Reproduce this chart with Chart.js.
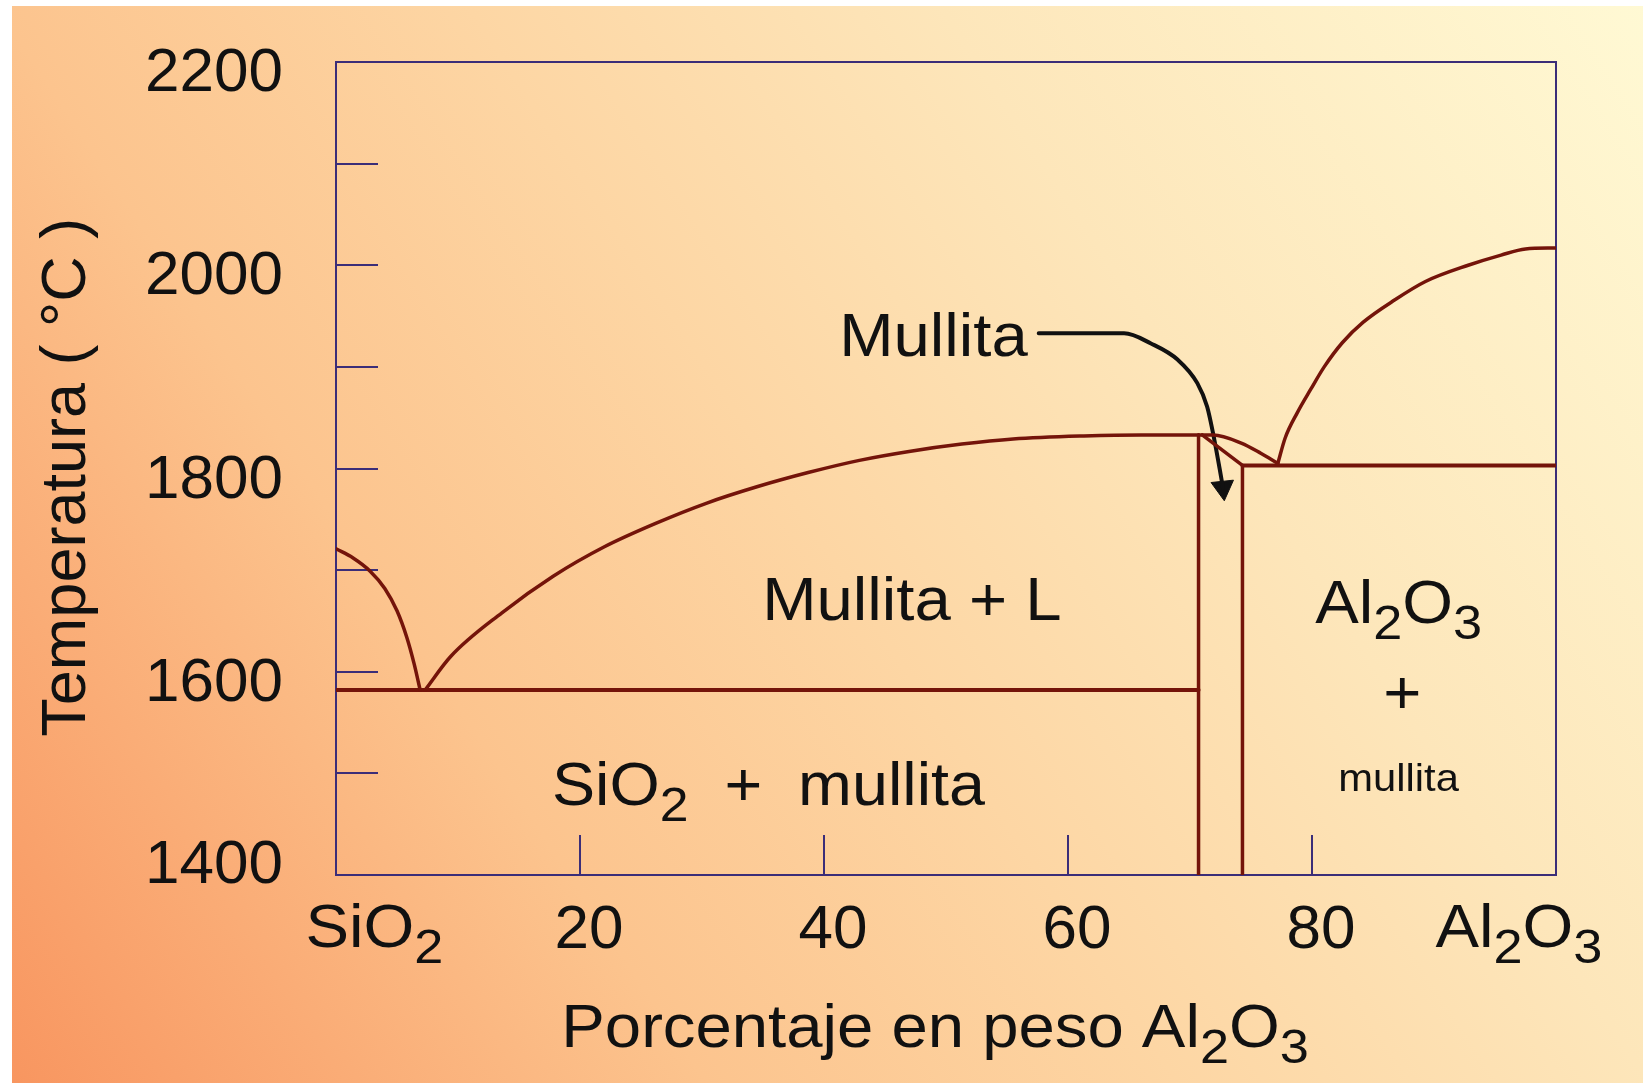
<!DOCTYPE html>
<html>
<head>
<meta charset="utf-8">
<script src="https://cdn.jsdelivr.net/npm/chart.js@4.4.1/dist/chart.umd.min.js"></script>
<style>
  html, body { margin: 0; padding: 0; background: #ffffff; }
  #wrap { width: 1643px; height: 1083px; }
</style>
</head>
<body>
<div id="wrap"><canvas id="c" width="1643" height="1083"></canvas></div>
<script>
// ---------------- DATA (wt% Al2O3, temperature °C) ----------------
const xTickValues = [0, 20, 40, 60, 80, 100];
const xTickLabels = ['SiO₂', '20', '40', '60', '80', 'Al₂O₃'];
const yTickValues = [1400, 1500, 1600, 1700, 1800, 1900, 2000, 2100, 2200];
const yTickLabels = ['1400', '', '1600', '', '1800', '', '2000', '', '2200'];

// SiO2 liquidus
const liqSiO2X = [0, 1.4, 2.8, 4.0, 5.0, 5.8, 6.4, 6.9];
const liqSiO2T = [1721, 1712, 1699, 1682, 1660, 1634, 1608, 1582];
// Mullite liquidus (Mullita + L)
const liqMulX = [7.3, 9.4, 13.6, 17.8, 22.0, 26.2, 30.4, 34.5, 38.7, 42.9, 47.1, 51.3, 55.5, 61.3, 66.0, 70.7];
const liqMulT = [1582, 1615, 1658, 1694, 1723, 1746, 1766, 1782, 1796, 1808, 1817, 1824, 1829, 1832, 1833, 1833];
// SiO2 - mullite eutectic line
const eut1X = [0, 70.7];
const eut1T = [1582, 1582];
// mullite left boundary
const mulLeftX = [70.7, 70.7];
const mulLeftT = [1400, 1833];
// liquidus from mullite to the Al2O3 eutectic
const domeX = [70.7, 71.9, 74.2, 75.8, 77.2];
const domeT = [1833, 1833, 1825, 1815, 1805];
// mullite right boundary
const mulRightX = [71.0, 74.3, 74.3];
const mulRightT = [1833, 1803, 1400];
// mullite - Al2O3 eutectic line
const eut2X = [74.3, 100];
const eut2T = [1803, 1803];
// Al2O3 liquidus
const liqAlX = [77.2, 77.8, 78.8, 79.9, 81.0, 82.5, 84.2, 86.8, 89.3, 92.8, 95.5, 97.5, 100];
const liqAlT = [1805, 1830, 1855, 1878, 1900, 1924, 1944, 1966, 1984, 2000, 2010, 2016, 2017];
// "Mullita" pointer arrow
const arrowX = [57.6, 64.6, 66.8, 69.0, 70.6, 71.4, 72.0, 72.5, 72.7];
const arrowT = [1933, 1933, 1923, 1907, 1884, 1861, 1828, 1795, 1781];
const arrowHeadX = [72.7];
const arrowHeadT = [1781];

// ---------------- STYLE ----------------
const FONT = '"Liberation Sans", Arial, Helvetica, sans-serif';
const PHASE = '#74140a';
const FRAME = '#3b2d78';
const TEXT = '#111111';

function pts(xs, ys) { return xs.map((x, i) => ({ x: x, y: ys[i] })); }
function line(xs, ys, opts) {
  return Object.assign({
    data: pts(xs, ys), showLine: true, borderColor: PHASE, borderWidth: 3.5,
    pointRadius: 0, pointHoverRadius: 0, fill: false, tension: 0,
    borderCapStyle: 'round', borderJoinStyle: 'round'
  }, opts || {});
}

// rich text with subscript digits
const SUB = { '₀': '0', '₁': '1', '₂': '2', '₃': '3', '₄': '4' };
function parseRich(s) {
  const segs = [];
  for (const ch of s) {
    const isSub = ch in SUB;
    const c = isSub ? SUB[ch] : ch;
    if (segs.length && segs[segs.length - 1].sub === isSub) segs[segs.length - 1].t += c;
    else segs.push({ t: c, sub: isSub });
  }
  return segs;
}
function drawRich(ctx, text, x, y, align, size, sx) {
  const segs = parseRich(text);
  ctx.save();
  ctx.translate(x, y);
  ctx.scale(sx, 1);
  ctx.fillStyle = TEXT;
  ctx.textBaseline = 'alphabetic';
  ctx.textAlign = 'left';
  let w = 0;
  segs.forEach(s => {
    ctx.font = (s.sub ? size * 0.8 : size) + 'px ' + FONT;
    s.w = ctx.measureText(s.t).width;
    w += s.w;
  });
  let cx = align === 'center' ? -w / 2 : (align === 'right' ? -w : 0);
  segs.forEach(s => {
    ctx.font = (s.sub ? size * 0.8 : size) + 'px ' + FONT;
    ctx.fillText(s.t, cx, s.sub ? size * 0.27 : 0);
    cx += s.w;
  });
  ctx.restore();
}

// annotation anchors in data coordinates (x = wt%, y = °C of the text baseline)
const annotations = [
  { text: 'Mullita', x: 56.7, y: 1911, align: 'right', size: 61 },
  { text: 'Mullita + L', x: 47.2, y: 1651, align: 'center', size: 61 },
  { text: 'SiO₂  +  mullita', x: 17.7, y: 1469, align: 'left', size: 61, sx: 1.06 },
  { text: 'Al₂O₃', x: 87.1, y: 1648, align: 'center', size: 61 },
  { text: '+', x: 87.4, y: 1559, align: 'center', size: 61 },
  { text: 'mullita', x: 87.1, y: 1483, align: 'center', size: 39 },
  { text: 'SiO₂', x: -2.5, y: 1329.4, align: 'left', size: 61 },
  { text: 'Al₂O₃', x: 103.8, y: 1329.4, align: 'right', size: 61 },
  { text: 'Porcentaje en peso Al₂O₃', x: 49.1, y: 1231, align: 'center', size: 61 }
];

const decor = {
  id: 'decor',
  beforeDraw(chart) {
    const ctx = chart.ctx, W = chart.width, H = chart.height;
    ctx.save();
    ctx.fillStyle = '#ffffff';
    ctx.fillRect(0, 0, W, H);
    const g = ctx.createLinearGradient(0, H, W, 0);
    g.addColorStop(0, '#f8955f');
    g.addColorStop(0.3, '#fcc48e');
    g.addColorStop(0.5, '#fdd6a4');
    g.addColorStop(0.7, '#fde6ba');
    g.addColorStop(1, '#fff9d4');
    ctx.fillStyle = g;
    ctx.fillRect(12, 6, W - 12, H - 6);
    ctx.restore();
  },
  beforeDatasetsDraw(chart) {
    const a = chart.chartArea, ctx = chart.ctx;
    ctx.save();
    ctx.strokeStyle = FRAME;
    ctx.lineWidth = 2;
    ctx.strokeRect(a.left, a.top, a.right - a.left, a.bottom - a.top);
    ctx.restore();
  },
  afterDraw(chart) {
    const ctx = chart.ctx, xs = chart.scales.x, ys = chart.scales.y;
    annotations.forEach(n => {
      drawRich(ctx, n.text, xs.getPixelForValue(n.x), ys.getPixelForValue(n.y), n.align, n.size, n.sx || 1.07);
    });
  }
};

new Chart(document.getElementById('c'), {
  type: 'scatter',
  data: {
    datasets: [
      line(liqSiO2X, liqSiO2T, { cubicInterpolationMode: 'monotone' }),
      line(liqMulX, liqMulT, { cubicInterpolationMode: 'monotone' }),
      line(eut1X, eut1T, { borderWidth: 4 }),
      line(mulLeftX, mulLeftT),
      line(domeX, domeT, { cubicInterpolationMode: 'monotone' }),
      line(mulRightX, mulRightT),
      line(eut2X, eut2T, { borderWidth: 4 }),
      line(liqAlX, liqAlT, { cubicInterpolationMode: 'monotone' }),
      line(arrowX, arrowT, { borderColor: '#111111', borderWidth: 4, cubicInterpolationMode: 'monotone' }),
      {
        data: pts(arrowHeadX, arrowHeadT), showLine: false, pointStyle: 'triangle',
        pointRadius: 13, pointRotation: 174, backgroundColor: '#111111', borderColor: '#111111',
        borderWidth: 1, clip: false
      }
    ]
  },
  options: {
    responsive: false,
    maintainAspectRatio: false,
    animation: false,
    events: [],
    layout: { padding: { left: 0, top: 62, right: 87, bottom: 0 } },
    plugins: { legend: { display: false }, tooltip: { enabled: false } },
    scales: {
      x: {
        type: 'linear', min: 0, max: 100,
        afterBuildTicks(s) { s.ticks = xTickValues.map(v => ({ value: v })); },
        afterFit(s) { s.height = 208; s.paddingLeft = 0; s.paddingRight = 0; },
        border: { display: false },
        grid: { display: true, drawOnChartArea: false, drawTicks: true, tickLength: -40, color: FRAME, lineWidth: 2 },
        ticks: {
          autoSkip: false, maxRotation: 0, minRotation: 0, padding: 59, labelOffset: 9,
          color: TEXT, font: { family: FONT, size: 62 },
          callback(v) {
            const l = xTickLabels[xTickValues.indexOf(v)] || '';
            return /[₀-₉]/.test(l) ? '' : l;
          }
        }
      },
      y: {
        type: 'linear', min: 1400, max: 2200,
        afterBuildTicks(s) { s.ticks = yTickValues.map(v => ({ value: v })); },
        afterFit(s) { s.width = 336; s.paddingTop = 0; s.paddingBottom = 0; },
        border: { display: false },
        grid: { display: true, drawOnChartArea: false, drawTicks: true, tickLength: -42, color: FRAME, lineWidth: 2 },
        ticks: {
          autoSkip: false, padding: 95, labelOffset: 12,
          color: TEXT,
          // the lowest label sits a little higher (it would otherwise touch the x labels)
          font: (c) => ({ family: FONT, size: 62, lineHeight: (c.tick && c.tick.value === yTickValues[0]) ? '42px' : 1.2 }),
          callback(v) {
            const i = yTickValues.indexOf(v);
            if (i < 0) return '';
            return i === 0 ? [yTickLabels[i], ''] : yTickLabels[i];
          }
        },
        title: {
          display: true, text: 'Temperatura ( °C )\u00A0', color: TEXT,
          font: { family: FONT, size: 63 }, padding: { top: 30, bottom: 0 }
        }
      }
    }
  },
  plugins: [decor]
});
</script>
</body>
</html>
